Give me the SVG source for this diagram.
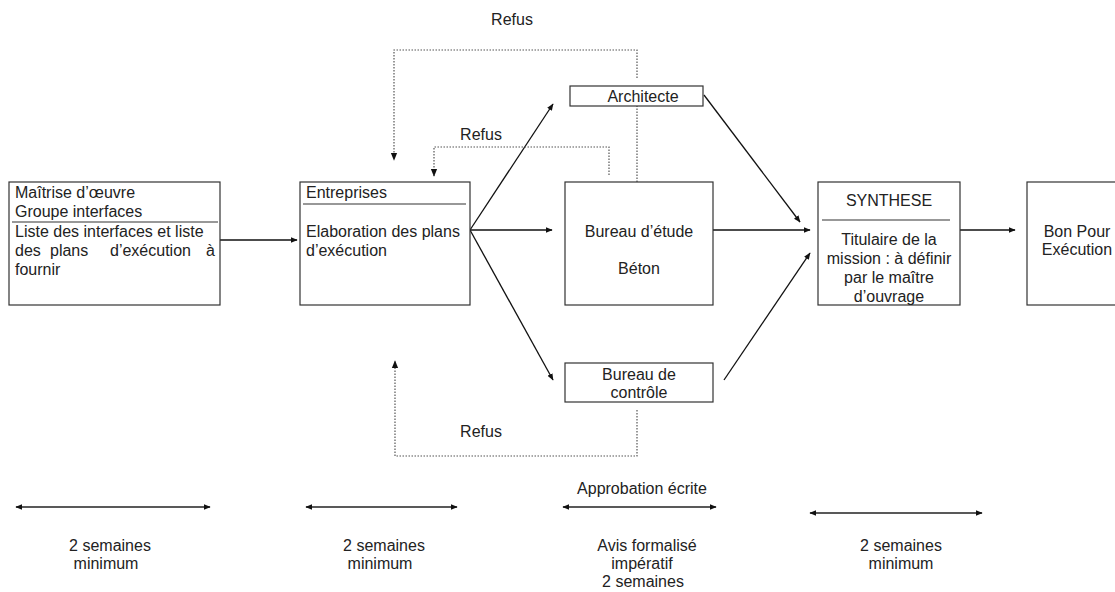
<svg xmlns="http://www.w3.org/2000/svg" width="1115" height="592" viewBox="0 0 1115 592">
<defs>
<marker id="ah" viewBox="0 0 10 10" refX="9" refY="5" markerWidth="7" markerHeight="7" orient="auto-start-reverse" markerUnits="userSpaceOnUse">
<path d="M0,1 L10,5 L0,9 z" fill="#111"/>
</marker>
<marker id="ah2" viewBox="0 0 10 10" refX="9" refY="5" markerWidth="8" markerHeight="8" orient="auto-start-reverse" markerUnits="userSpaceOnUse">
<path d="M0,1 L10,5 L0,9 z" fill="#111"/>
</marker>
</defs>
<style>
text{font-family:"Liberation Sans",Arial,sans-serif;font-size:16px;fill:#222}
.box{fill:#fff;stroke:#333;stroke-width:1.2}
.sep{stroke:#333;stroke-width:1.2}
.c{text-anchor:middle}
.arr{stroke:#111;stroke-width:1.3;fill:none;marker-end:url(#ah)}
.dot{stroke:#555;stroke-width:1.2;stroke-dasharray:1.5 1.5;fill:none}
.dotarr{stroke:#555;stroke-width:1.2;stroke-dasharray:1.5 1.5;fill:none;marker-end:url(#ah2)}
.dbl{stroke:#222;stroke-width:1.6;fill:none;marker-start:url(#ah);marker-end:url(#ah)}
</style>
<rect width="1115" height="592" fill="#fff"/>

<g id="connectors">
<line class="arr" x1="220" y1="240" x2="297" y2="240"/>
<line class="arr" x1="470" y1="230" x2="553" y2="104"/>
<line class="arr" x1="470" y1="230" x2="552" y2="230"/>
<line class="arr" x1="470" y1="230" x2="553" y2="380"/>
<line class="arr" x1="704" y1="95" x2="800" y2="222"/>
<line class="arr" x1="713" y1="230" x2="810" y2="230"/>
<line class="arr" x1="724" y1="380" x2="810" y2="253"/>
<line class="arr" x1="960" y1="230" x2="1015" y2="230"/>
<polyline class="dot" points="637,182 637,106"/>
<polyline class="dotarr" points="637,78 637,50 394,50 394,160"/>
<polyline class="dotarr" points="609,175 609,147 434,147 434,176"/>
<polyline class="dotarr" points="637,410 637,456 395,456 395,361"/>
<line class="dbl" x1="16" y1="507" x2="210" y2="507"/>
<line class="dbl" x1="306" y1="507" x2="457" y2="507"/>
<line class="dbl" x1="563" y1="507" x2="716" y2="507"/>
<line class="dbl" x1="810" y1="513" x2="982" y2="513"/>
</g>

<g id="maitrise">
<rect class="box" x="9" y="182" width="211" height="123"/>
<line class="sep" x1="12" y1="222" x2="218" y2="222"/>
<text x="15" y="198">Maîtrise d’œuvre</text>
<text x="15" y="217">Groupe interfaces</text>
<text x="15" y="237">Liste des interfaces et liste</text>
<text y="256"><tspan x="15">des</tspan><tspan x="50">plans</tspan><tspan x="110">d’exécution</tspan><tspan x="206">à</tspan></text>
<text x="15" y="275">fournir</text>
</g>

<g id="entreprises">
<rect class="box" x="300" y="182" width="170" height="123"/>
<line class="sep" x1="303" y1="204" x2="466" y2="204"/>
<text x="306" y="198">Entreprises</text>
<text x="306" y="237">Elaboration des plans</text>
<text x="306" y="256">d’exécution</text>
</g>

<g id="architecte">
<rect class="box" x="570" y="86" width="133" height="20"/>
<text class="c" x="643" y="102">Architecte</text>
</g>

<g id="bureau-etude">
<rect class="box" x="565" y="182" width="148" height="123"/>
<text class="c" x="639" y="237">Bureau d’étude</text>
<text class="c" x="639" y="274">Béton</text>
</g>

<g id="bureau-controle">
<rect class="box" x="565" y="363" width="148" height="39"/>
<text class="c" x="639" y="380">Bureau de</text>
<text class="c" x="639" y="398">contrôle</text>
</g>

<g id="synthese">
<rect class="box" x="818" y="182" width="142" height="123"/>
<line class="sep" x1="822" y1="220" x2="950" y2="220"/>
<text class="c" x="889" y="206">SYNTHESE</text>
<text class="c" x="889" y="245">Titulaire de la</text>
<text class="c" x="889" y="264">mission : à définir</text>
<text class="c" x="889" y="283">par le maître</text>
<text class="c" x="889" y="302">d’ouvrage</text>
</g>

<g id="bpe">
<rect class="box" x="1027" y="182" width="100" height="123"/>
<text class="c" x="1077" y="237">Bon Pour</text>
<text class="c" x="1077" y="255">Exécution</text>
</g>

<g id="labels">
<text class="c" x="512" y="25">Refus</text>
<text class="c" x="481" y="140">Refus</text>
<text class="c" x="481" y="437">Refus</text>
<text class="c" x="642" y="494">Approbation écrite</text>
<text class="c" x="110" y="551">2 semaines</text>
<text class="c" x="106" y="569">minimum</text>
<text class="c" x="384" y="551">2 semaines</text>
<text class="c" x="380" y="569">minimum</text>
<text class="c" x="647" y="551">Avis formalisé</text>
<text class="c" x="642" y="569">impératif</text>
<text class="c" x="643" y="587">2 semaines</text>
<text class="c" x="901" y="551">2 semaines</text>
<text class="c" x="901" y="569">minimum</text>
</g>
</svg>
